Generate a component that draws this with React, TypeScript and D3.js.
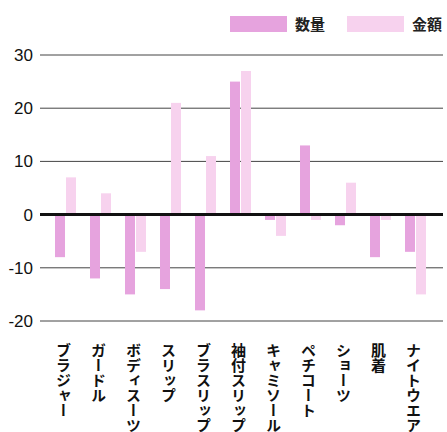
import React from "react";
import * as d3 from "d3";

const categories = ["ブラジャー", "ガードル", "ボディスーツ", "スリップ", "ブラスリップ", "袖付スリップ", "キャミソール", "ペチコート", "ショーツ", "肌着", "ナイトウエア"];
const quantity = [-8, -12, -15, -14, -18, 25, -1, 13, -2, -8, -7];
const amount = [7, 4, -7, 21, 11, 27, -4, -1, 6, -1, -15];
const yTicks = [30, 20, 10, 0, -10, -20];
const seriesNames = ["数量", "金額"];

const W = 447, H = 432;
const QTY = "#e6a3de";
const AMT = "#f7d2ee";

export default function App() {
  const y = d3.scaleLinear().domain([-20, 30]).range([321, 55]);
  const x = d3.scaleBand<string>().domain(categories).range([41, 440]).paddingInner(0.4).paddingOuter(0.4);
  const bw = x.bandwidth();
  const barW = (bw - 1) / 2;
  const jp = "'Noto Sans CJK JP', sans-serif";
  return (
    <div style={{ position: "absolute", left: 0, top: 0 }}>
      <svg width={W} height={H} style={{ display: "block", background: "#fff" }}>
        {/* legend */}
        <rect x={230} y={16} width={57} height={16} fill={QTY} />
        <text x={295} y={30} fontFamily={jp} fontWeight="bold" fontSize={15} fill="#222">{seriesNames[0]}</text>
        <rect x={347} y={16} width={57} height={16} fill={AMT} />
        <text x={412} y={30} fontFamily={jp} fontWeight="bold" fontSize={15} fill="#222">{seriesNames[1]}</text>
        {/* grid */}
        {yTicks.map((t) => (
          <g key={t}>
            <line x1={40} x2={443} y1={y(t)} y2={y(t)} stroke={t === 0 ? "#111" : "#444"} strokeWidth={t === 0 ? 3 : 1} />
            <text x={33} y={y(t) + 6} textAnchor="end" fontFamily="'Liberation Sans', Arial, sans-serif" fontSize={17} fill="#111">{t}</text>
          </g>
        ))}
        {/* bars */}
        {categories.map((c, i) => {
          const x0 = x(c)!;
          const q = quantity[i], a = amount[i];
          return (
            <g key={c}>
              <rect x={x0 + barW + 1} width={barW} y={Math.min(y(a), y(0))} height={Math.abs(y(a) - y(0))} fill={AMT} />
              <rect x={x0} width={barW} y={Math.min(y(q), y(0))} height={Math.abs(y(q) - y(0))} fill={QTY} />
            </g>
          );
        })}
        <line x1={40} x2={443} y1={y(0)} y2={y(0)} stroke="#111" strokeWidth={3} />
        {/* category labels */}
        {categories.map((c) => (
          <text key={c} x={x(c)! + bw / 2 - 2} y={343} fontFamily={jp} fontWeight="bold" fontSize={15} fill="#111"
            style={{ writingMode: "vertical-rl" as any }}>
            {c}
          </text>
        ))}
      </svg>
    </div>
  );
}
